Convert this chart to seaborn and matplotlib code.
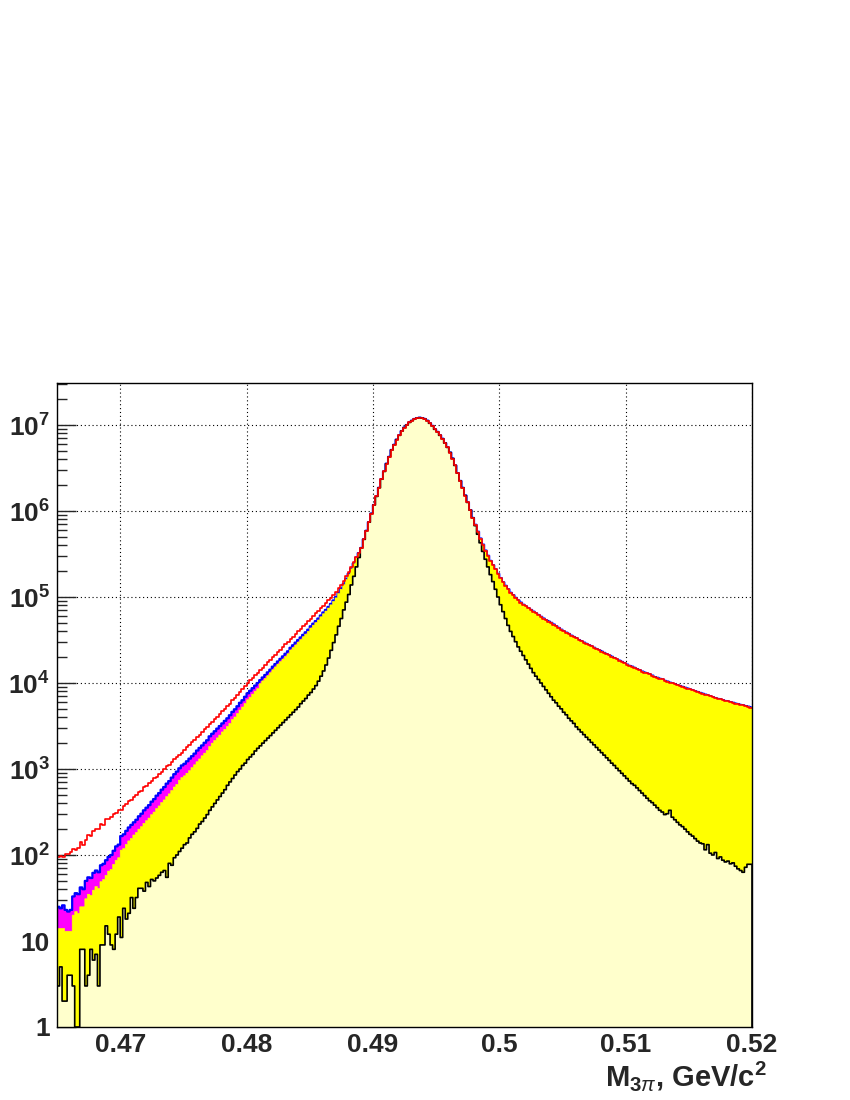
import numpy as np
import pandas as pd
import matplotlib
matplotlib.use("Agg")
import matplotlib.pyplot as plt
from matplotlib.ticker import LogLocator, NullFormatter
import seaborn as sns

# ---------------- data (bin contents) ----------------
x_min, x_max = 0.465, 0.52          # histogram range, 275 bins of 0.0002

# upper (red) curve, left side bins 0..119
red_left = [95, 97, 96, 102, 104, 108, 118, 115, 120, 140, 132, 150, 170, 165, 190, 200, 198, 230, 225, 260,
            265, 280, 300, 310, 330, 335, 370, 390, 420, 440, 470, 500, 540, 560, 610, 640, 690, 720, 780, 810,
            880, 930, 1000, 1070, 1120, 1200, 1290, 1380, 1450, 1550, 1660, 1780, 1900, 2040, 2190, 2340, 2510, 2690, 2880, 3090,
            3310, 3550, 3800, 4070, 4370, 4680, 5010, 5370, 5750, 6310, 6760, 7240, 7940, 8510, 9330, 10000, 10700, 11500, 12300, 13200,
            14100, 15100, 16200, 17400, 18600, 20000, 21400, 22900, 24500, 26300, 28200, 30200, 32400, 34700, 37200, 39800, 42700, 45700, 49000, 52500,
            56200, 60300, 64600, 69200, 74100, 79400, 85100, 91200, 97700, 105000, 115000, 126000, 138000, 155000, 174000, 195000, 224000, 257000, 295000, 324000]

# blue/magenta curve, left side bins 0..119
blue_left = [25, 24, 26, 23, 22, 23, 33, 36, 35, 42, 40, 50, 55, 54, 62, 66, 63, 76, 79, 87,
             95, 100, 112, 126, 132, 166, 174, 191, 209, 224, 240, 257, 282, 302, 331, 355, 380, 417, 447, 490,
             525, 575, 617, 676, 724, 794, 871, 933, 1020, 1100, 1150, 1230, 1320, 1410, 1510, 1640, 1760, 1880, 2020, 2160,
             2400, 2570, 2750, 2950, 3160, 3390, 3630, 3890, 4220, 4620, 4950, 5370, 5890, 6310, 6920, 7590, 8130, 8710, 9330, 10000,
             10800, 11600, 12400, 13300, 14300, 15500, 16600, 17800, 19100, 20400, 21900, 23400, 25700, 27500, 29500, 31600, 33900, 36300, 38900, 41700,
             45700, 49000, 52500, 56200, 61000, 66100, 70800, 76700, 83200, 91200, 100000, 112000, 126000, 141000, 162000, 186000, 214000, 245000, 288000, 324000]

# yellow component top, left side bins 0..119
yellow_left = [14, 14, 14, 13, 13, 13, 20, 22, 21, 25, 25, 31, 35, 34, 39, 43, 41, 49, 52, 58,
               65, 68, 78, 87, 93, 114, 119, 133, 146, 156, 171, 183, 200, 214, 234, 251, 269, 295, 316, 347,
               372, 408, 437, 479, 514, 563, 618, 662, 742, 796, 833, 893, 956, 1040, 1120, 1215, 1310, 1425, 1530, 1645,
               1830, 2000, 2150, 2300, 2480, 2700, 2890, 3130, 3390, 3760, 4030, 4420, 4850, 5260, 5770, 6390, 6840, 7430, 8040, 8610,
               9850, 10600, 11300, 12200, 13200, 14300, 15400, 16600, 17800, 19000, 20400, 21900, 24200, 25900, 27700, 29900, 32000, 34500, 37000, 39800,
               43600, 47000, 50400, 54000, 58900, 63800, 68700, 74400, 81100, 88900, 97700, 110000, 123000, 139000, 160000, 184000, 212000, 243000, 286000, 322000]

# core (black outline) component, left side bins 0..119
black_left = [3, 5, 2, 2, 4, 4, 3, 1, 1, 8, 8, 3, 4, 8, 6, 7, 3, 9, 9, 15,
              12, 9, 8, 12, 19, 11, 24, 18, 21, 32, 24, 32, 41, 41, 38, 48, 43, 52, 50, 54,
              58, 63, 66, 55, 80, 76, 93, 100, 110, 120, 132, 138, 158, 174, 186, 204, 229, 245, 269, 295,
              331, 363, 398, 437, 479, 525, 575, 646, 708, 776, 851, 933, 1000, 1100, 1170, 1290, 1380, 1480, 1620, 1740,
              1860, 2000, 2140, 2290, 2450, 2630, 2820, 3020, 3240, 3470, 3720, 3980, 4270, 4570, 4900, 5250, 5750, 6170, 6610, 7240,
              7760, 8510, 9330, 10500, 12000, 13800, 16200, 19500, 24000, 29500, 36300, 45700, 56200, 70800, 87100, 107000, 138000, 174000, 224000, 288000]

# peak region, bins 120..164 (all components coincide)
peak = [3.72e5, 4.68e5, 5.89e5, 7.41e5, 9.33e5, 1.175e6, 1.479e6, 1.862e6, 2.344e6, 2.884e6,
        3.548e6, 4.266e6, 5.129e6, 5.888e6, 6.761e6, 7.586e6, 8.511e6, 9.333e6, 1.0e7, 1.072e7,
        1.122e7, 1.175e7, 1.202e7, 1.216e7, 1.202e7, 1.175e7, 1.122e7, 1.047e7, 9.772e6, 8.913e6,
        8.318e6, 7.586e6, 6.918e6, 6.166e6, 5.495e6, 4.786e6, 4.074e6, 3.388e6, 2.754e6, 2.239e6,
        1.862e6, 1.514e6, 1.259e6, 1.023e6, 8.32e5]

# right tail of the total (red = blue = yellow top), bins 165..274
tail_right = [692000, 575000, 479000, 407000, 347000, 302000, 263000, 234000, 209000, 186000,
              166000, 148000, 135000, 123000, 112000, 105000, 97700, 91200, 86100, 81300,
              77600, 74100, 70800, 67600, 64600, 61700, 58900, 56200, 53700, 51900,
              50100, 47900, 45700, 43700, 41700, 39800, 38500, 37200, 35500, 34300,
              33100, 31600, 30500, 29500, 28500, 27500, 26600, 25700, 24800, 24000,
              23200, 22400, 21600, 20900, 20200, 19500, 18800, 18200, 17600, 17000,
              16400, 15800, 15500, 15000, 14500, 14100, 13600, 13200, 12900, 12600,
              12200, 11700, 11500, 11200, 11000, 10600, 10400, 10100, 9890, 9660,
              9440, 9230, 9020, 8810, 8610, 8410, 8220, 8040, 7850, 7670,
              7500, 7330, 7160, 7000, 6840, 6680, 6530, 6460, 6310, 6170,
              6100, 5960, 5890, 5750, 5690, 5560, 5500, 5370, 5310, 5190]

# core component right tail, bins 165..274
black_right = [676000, 537000, 427000, 339000, 275000, 224000, 182000, 151000, 123000, 100000,
               81300, 67600, 56200, 46800, 39800, 34700, 30200, 26300, 23400, 20900,
               18600, 16600, 14800, 13200, 12000, 11000, 10000, 9120, 8320, 7590,
               6920, 6310, 5890, 5370, 5010, 4570, 4270, 3890, 3630, 3390,
               3090, 2880, 2690, 2510, 2340, 2190, 2040, 1910, 1780, 1660,
               1550, 1450, 1350, 1260, 1170, 1100, 1020, 955, 891, 832,
               776, 724, 676, 646, 603, 562, 525, 490, 457, 427,
               407, 380, 355, 331, 316, 295, 302, 331, 275, 257,
               240, 224, 214, 200, 186, 174, 166, 155, 145, 138,
               135, 115, 132, 105, 100, 107, 91, 95, 87, 83,
               85, 79, 81, 74, 69, 66, 63, 72, 78, 78]

x_ticks = [0.47, 0.48, 0.49, 0.50, 0.51, 0.52]
x_tick_labels = ["0.47", "0.48", "0.49", "0.5", "0.51", "0.52"]
y_ticks = [1, 10, 1e2, 1e3, 1e4, 1e5, 1e6, 1e7]
y_tick_labels = ["1", "10"] + [r"$\mathbf{10^{%d}}$" % k for k in range(2, 8)]
x_label = r"$\mathbf{M}_{\mathbf{3}\pi}$, GeV/c$^{\mathbf{2}}$"

total_counts = red_left + peak + tail_right
blue_counts = blue_left + peak + tail_right
yellow_counts = yellow_left + peak + tail_right
core_counts = black_left + peak + black_right

# ---------------- figure ----------------
sns.set_style("white")
plt.rcParams["font.family"] = ["Liberation Sans", "DejaVu Sans"]
plt.rcParams["mathtext.fontset"] = "custom"
plt.rcParams["mathtext.rm"] = "Liberation Sans"
plt.rcParams["mathtext.bf"] = "Liberation Sans:bold"
plt.rcParams["mathtext.it"] = "Liberation Sans:italic"

n_bins = len(total_counts)
edges = np.linspace(x_min, x_max, n_bins + 1)
centers = 0.5 * (edges[:-1] + edges[1:])

fig = plt.figure(figsize=(8.5, 11), dpi=100)
ax = fig.add_axes([57 / 850, 73 / 1100, 695 / 850, 644 / 1100])
ax.set_yscale("log")


def layer(values, face, edge, lw, z, fill=True):
    df = pd.DataFrame({"m": centers, "w": np.asarray(values, dtype=float)})
    common = dict(data=df, x="m", weights="w", bins=n_bins, binrange=(x_min, x_max),
                  element="step", ax=ax, zorder=z, linewidth=lw, alpha=1)
    if fill:
        sns.histplot(fill=True, color=face, edgecolor=edge, **common)
    else:
        sns.histplot(fill=False, color=edge, **common)


layer(blue_counts, "#ff00ff", "#0000ff", 1.6, 2)
layer(yellow_counts, "#ffff00", "#ffff00", 0.4, 3)
layer(core_counts, "#ffffcc", "#000000", 1.2, 4)
layer(total_counts, None, "#ff0000", 1.2, 5, fill=False)

ax.set_xlim(x_min, x_max)
ax.set_ylim(1, 3.08e7)
ax.set_xlabel("")
ax.set_ylabel("")

ax.set_axisbelow(True)
ax.grid(True, which="major", color="black", linestyle=(0, (1, 2.5)), linewidth=0.8)

ax.set_xticks(x_ticks)
ax.set_xticklabels(x_tick_labels)
ax.set_yticks(y_ticks)
ax.set_yticklabels(y_tick_labels)
ax.yaxis.set_minor_locator(LogLocator(base=10, subs=np.arange(2, 10), numticks=30))
ax.yaxis.set_minor_formatter(NullFormatter())

ax.tick_params(axis="x", which="both", length=0, pad=4, labelsize=19)
ax.tick_params(axis="y", which="major", direction="in", length=14, width=1, pad=5,
               labelsize=19, left=True, right=False)
ax.tick_params(axis="y", which="minor", direction="in", length=7, width=1, left=True, right=False)
for lab in ax.get_xticklabels() + ax.get_yticklabels():
    lab.set_fontweight("bold")

for sp in ax.spines.values():
    sp.set_color("black")
    sp.set_linewidth(1.0)
    sp.set_zorder(6)

fig.text(767 / 850, 1 - 1086 / 1100, x_label, ha="right", va="baseline",
         fontsize=21, fontweight="bold")

fig.savefig("out.png", dpi=100, facecolor="white")
